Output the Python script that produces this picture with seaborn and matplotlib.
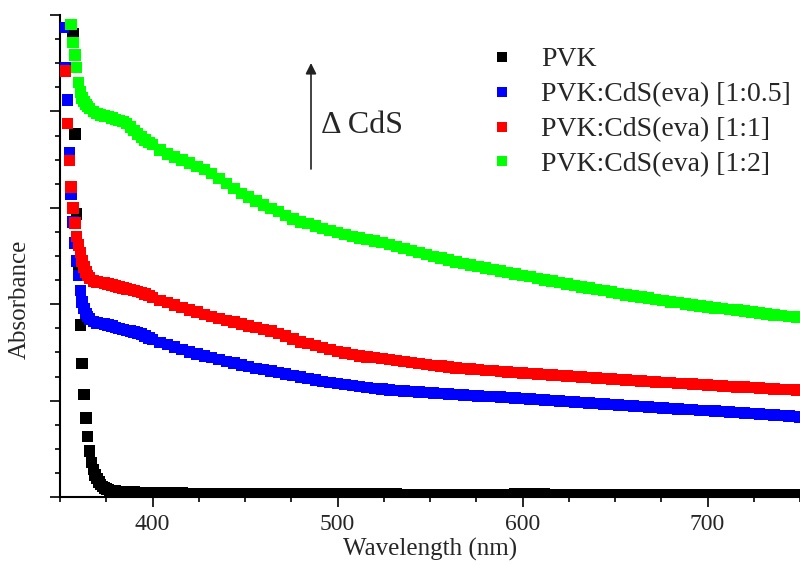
import numpy as np
import pandas as pd
import matplotlib
matplotlib.use("Agg")
import matplotlib.pyplot as plt
from matplotlib.ticker import MultipleLocator, NullFormatter
import seaborn as sns

sns.set_theme(style="white")
plt.rcParams["font.family"] = ["Liberation Serif", "DejaVu Serif"]
plt.rcParams["mathtext.fontset"] = "stix"

# ---------------- data ----------------
labels = ["PVK", "PVK:CdS(eva) [1:0.5]", "PVK:CdS(eva) [1:1]", "PVK:CdS(eva) [1:2]"]
colors = ["#000000", "#0000ff", "#ff0000", "#00ff00"]

tail_wl = list(range(400, 749, 4)) + [750]

# PVK
pvk_wl = list(range(357, 381)) + list(range(382, 399, 2))
pvk_head = [0.962, 0.753, 0.587, 0.471, 0.357, 0.277, 0.213, 0.164, 0.125, 0.095,
            0.072, 0.057, 0.046, 0.038, 0.031, 0.026, 0.022, 0.019, 0.017, 0.015,
            0.014, 0.013, 0.012, 0.012,
            0.011, 0.011, 0.010, 0.010, 0.010, 0.009, 0.009, 0.009, 0.009]
pvk_tail = [0.009, 0.008, 0.008, 0.008, 0.008, 0.007, 0.007, 0.007, 0.007, 0.007,
            0.007, 0.007, 0.007, 0.006, 0.006, 0.006, 0.006, 0.006, 0.006, 0.006,
            0.006, 0.006, 0.006, 0.006, 0.006, 0.006, 0.006, 0.006, 0.006, 0.006,
            0.006, 0.006, 0.006, 0.006, 0.005, 0.005, 0.005, 0.005, 0.005, 0.005,
            0.005, 0.005, 0.005, 0.005, 0.005, 0.005, 0.005, 0.005, 0.005, 0.006,
            0.006, 0.006, 0.006, 0.006, 0.005, 0.005, 0.005, 0.005, 0.005, 0.005,
            0.005, 0.005, 0.005, 0.005, 0.005, 0.005, 0.005, 0.005, 0.005, 0.005,
            0.005, 0.005, 0.005, 0.005, 0.005, 0.005, 0.005, 0.005, 0.005, 0.005,
            0.005, 0.005, 0.005, 0.005, 0.005, 0.005, 0.005, 0.005, 0.005]

# PVK:CdS [1:0.5]
blue_wl = list(range(352, 367)) + list(range(368, 399, 2))
blue_head = [0.974, 0.890, 0.824, 0.714, 0.629, 0.571, 0.527, 0.490, 0.460, 0.428,
             0.405, 0.391, 0.381, 0.374, 0.369,
             0.364, 0.361, 0.360, 0.359, 0.357, 0.355, 0.352, 0.350, 0.348, 0.346,
             0.344, 0.342, 0.340, 0.338, 0.334, 0.330]
blue_tail = [0.327, 0.321, 0.316, 0.311, 0.306, 0.301, 0.297, 0.293, 0.289, 0.285,
             0.281, 0.278, 0.274, 0.271, 0.267, 0.264, 0.261, 0.258, 0.255, 0.252,
             0.249, 0.246, 0.243, 0.240, 0.237, 0.235, 0.233, 0.231, 0.229, 0.227,
             0.225, 0.224, 0.222, 0.221, 0.220, 0.219, 0.218, 0.217, 0.216, 0.215,
             0.214, 0.213, 0.212, 0.211, 0.210, 0.209, 0.208, 0.207, 0.206, 0.205,
             0.204, 0.203, 0.202, 0.201, 0.200, 0.199, 0.198, 0.197, 0.196, 0.195,
             0.194, 0.193, 0.192, 0.191, 0.190, 0.189, 0.188, 0.187, 0.186, 0.185,
             0.184, 0.183, 0.182, 0.181, 0.180, 0.179, 0.178, 0.177, 0.176, 0.175,
             0.174, 0.173, 0.172, 0.171, 0.170, 0.169, 0.168, 0.167, 0.166]

# PVK:CdS [1:1]
red_wl = list(range(353, 367)) + list(range(368, 399, 2))
red_head = [0.884, 0.775, 0.698, 0.643, 0.600, 0.568, 0.541, 0.523, 0.507, 0.490,
            0.477, 0.467, 0.459, 0.454,
            0.448, 0.446, 0.445, 0.444, 0.442, 0.440, 0.438, 0.436, 0.434, 0.432,
            0.430, 0.428, 0.426, 0.424, 0.421, 0.418]
red_tail = [0.414, 0.408, 0.403, 0.398, 0.393, 0.388, 0.384, 0.379, 0.374, 0.370,
            0.366, 0.363, 0.359, 0.355, 0.352, 0.348, 0.344, 0.339, 0.334, 0.328,
            0.322, 0.318, 0.314, 0.310, 0.306, 0.302, 0.299, 0.296, 0.293, 0.290,
            0.289, 0.287, 0.285, 0.283, 0.281, 0.279, 0.277, 0.275, 0.273, 0.272,
            0.270, 0.268, 0.267, 0.266, 0.264, 0.263, 0.262, 0.260, 0.259, 0.258,
            0.257, 0.256, 0.255, 0.254, 0.253, 0.252, 0.251, 0.250, 0.249, 0.248,
            0.247, 0.246, 0.245, 0.244, 0.243, 0.242, 0.241, 0.240, 0.239, 0.238,
            0.237, 0.236, 0.235, 0.234, 0.233, 0.232, 0.231, 0.230, 0.229, 0.228,
            0.228, 0.227, 0.226, 0.225, 0.224, 0.223, 0.223, 0.222, 0.222]

# PVK:CdS [1:2]
green_wl = list(range(356, 367)) + list(range(368, 399, 2))
green_head = [0.980, 0.943, 0.917, 0.891, 0.860, 0.840, 0.828, 0.820, 0.814, 0.810,
              0.806,
              0.800, 0.796, 0.793, 0.790, 0.789, 0.786, 0.783, 0.781, 0.779, 0.775,
              0.768, 0.760, 0.753, 0.747, 0.741, 0.736]
green_tail = [0.731, 0.720, 0.712, 0.705, 0.699, 0.693, 0.686, 0.679, 0.671, 0.661,
              0.650, 0.640, 0.630, 0.622, 0.614, 0.606, 0.599, 0.592, 0.584, 0.577,
              0.571, 0.567, 0.562, 0.557, 0.553, 0.549, 0.545, 0.541, 0.537, 0.534,
              0.531, 0.528, 0.524, 0.520, 0.516, 0.511, 0.507, 0.503, 0.499, 0.496,
              0.492, 0.488, 0.485, 0.481, 0.478, 0.475, 0.472, 0.469, 0.466, 0.463,
              0.460, 0.457, 0.453, 0.450, 0.448, 0.445, 0.442, 0.439, 0.436, 0.434,
              0.431, 0.428, 0.425, 0.422, 0.419, 0.417, 0.415, 0.413, 0.410, 0.408,
              0.405, 0.403, 0.400, 0.398, 0.396, 0.394, 0.392, 0.391, 0.389, 0.388,
              0.386, 0.384, 0.382, 0.380, 0.378, 0.377, 0.375, 0.373, 0.372]

series = [
    (pvk_wl, pvk_head, pvk_tail),
    (blue_wl, blue_head, blue_tail),
    (red_wl, red_head, red_tail),
    (green_wl, green_head, green_tail),
]

frames = []
for lab, (wl, head, tail) in zip(labels, series):
    assert len(wl) == len(head), (lab, len(wl), len(head))
    assert len(tail_wl) == len(tail), (lab, len(tail_wl), len(tail))
    frames.append(pd.DataFrame({"Wavelength": wl + tail_wl,
                                "Absorbance": head + tail,
                                "Sample": lab}))
df = pd.concat(frames, ignore_index=True)

# ---------------- figure ----------------
fig = plt.figure(figsize=(8.0, 5.65), dpi=100)
ax = fig.add_axes([60 / 800, 68 / 565, 740 / 800, 482 / 565])

sns.scatterplot(data=df, x="Wavelength", y="Absorbance", hue="Sample",
                hue_order=labels, palette=colors, marker="s", s=68,
                linewidth=0, edgecolor="none", ax=ax, legend=True, zorder=3)

ax.set_xlim(350, 750)
ax.set_ylim(0, 1.0)

for side in ["top", "right"]:
    ax.spines[side].set_visible(False)
for side in ["left", "bottom"]:
    ax.spines[side].set_color("black")
    ax.spines[side].set_linewidth(1.5)

ax.xaxis.set_major_locator(MultipleLocator(100))
ax.xaxis.set_minor_locator(MultipleLocator(25))
ax.yaxis.set_major_locator(MultipleLocator(0.2))
ax.yaxis.set_minor_locator(MultipleLocator(0.05))
ax.yaxis.set_major_formatter(NullFormatter())
ax.tick_params(axis="both", which="major", direction="out", length=7, width=1.2,
               color="black", labelsize=17, pad=5, left=True, bottom=True)
ax.tick_params(axis="both", which="minor", direction="out", length=3.8, width=1.2,
               color="black", left=True, bottom=True)
ax.grid(False)

ax.set_xlabel("Wavelength (nm)", fontsize=18, labelpad=2)
ax.set_ylabel("Absorbance", fontsize=18)
ax.yaxis.set_label_coords(-0.04, 0.41)

sns.move_legend(ax, loc="upper left", bbox_to_anchor=(488 / 800, 1 - 47 / 565),
                bbox_transform=fig.transFigure, frameon=False, title=None,
                fontsize=20, handlelength=1.0, handletextpad=0.9,
                labelspacing=0.34, borderpad=0, borderaxespad=0, markerscale=0.8)

ax.annotate("", xy=(311 / 800, 1 - 63 / 565), xytext=(311 / 800, 1 - 169 / 565),
            xycoords="figure fraction", textcoords="figure fraction",
            arrowprops=dict(arrowstyle="-|>", color="#222222", lw=1.2,
                            mutation_scale=16, shrinkA=0, shrinkB=0))
fig.text(321 / 800, 1 - 133 / 565, "\u0394 CdS", fontsize=23, ha="left", va="baseline")

fig.savefig("out.png", dpi=100, facecolor="white")
